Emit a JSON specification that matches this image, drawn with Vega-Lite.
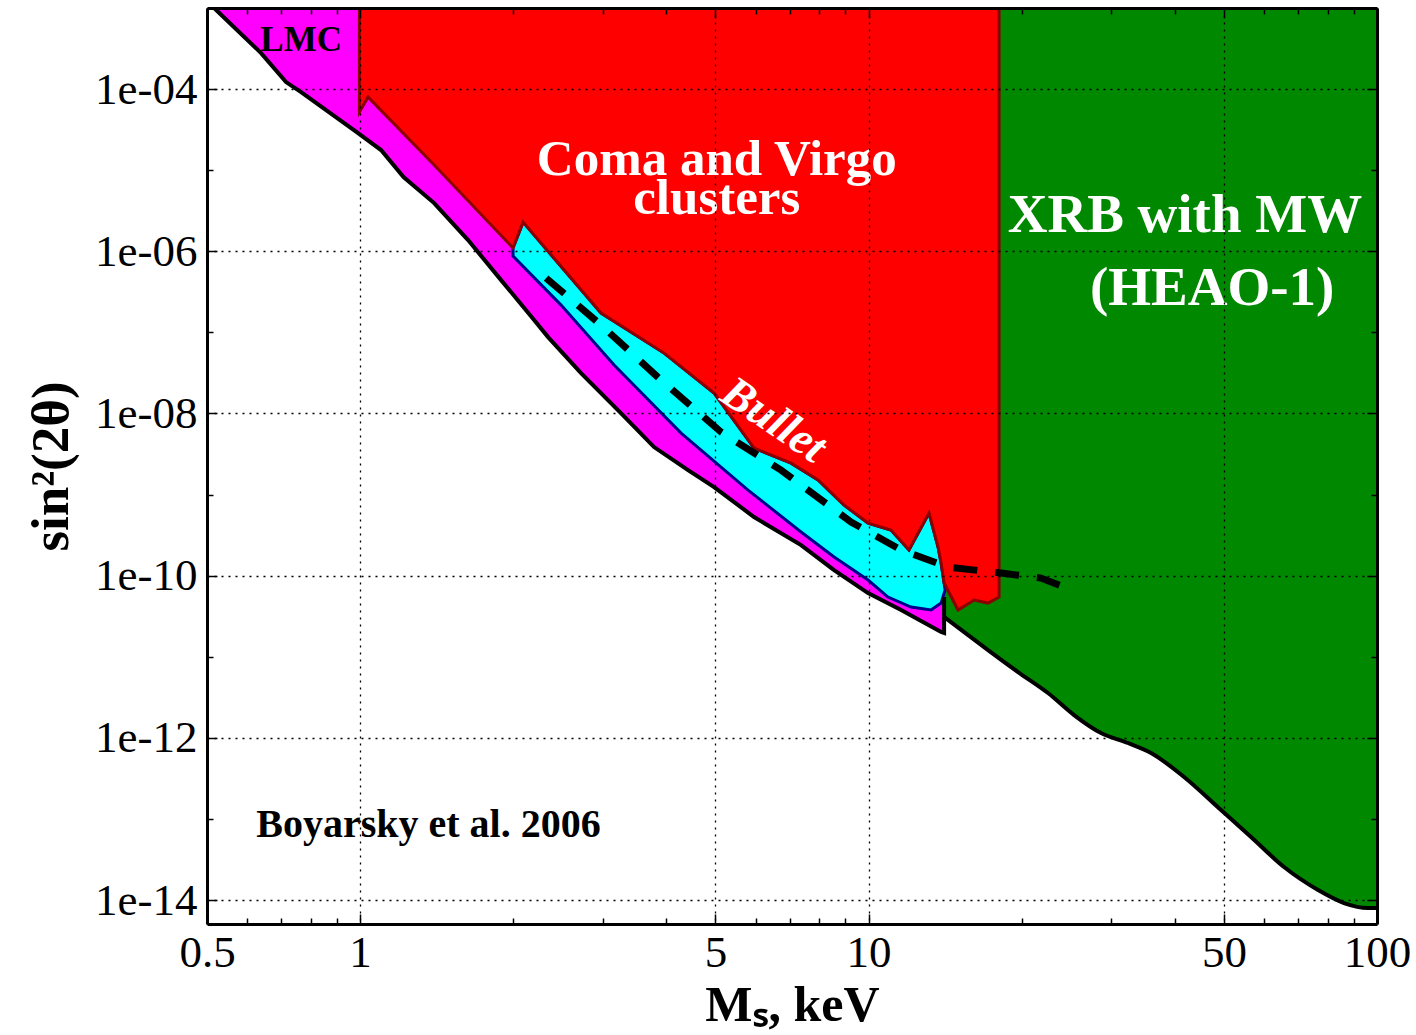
{
  "$schema": "https://vega.github.io/schema/vega-lite/v6.json",
  "width": 1170,
  "height": 916,
  "autosize": "none",
  "padding": {"left": 207, "top": 8, "right": 39, "bottom": 111},
  "background": "white",
  "config": {"view": {"stroke": null}},
  "datasets": {
    "green": [
      {"i": 0, "M": 14.08, "s": 3.09e-11},
      {"i": 1, "M": 15.70, "s": 1.852e-11},
      {"i": 2, "M": 17.18, "s": 1.209e-11},
      {"i": 3, "M": 19.68, "s": 6.48e-12},
      {"i": 4, "M": 22.54, "s": 3.57e-12},
      {"i": 5, "M": 25.36, "s": 1.91e-12},
      {"i": 6, "M": 28.66, "s": 1.146e-12},
      {"i": 7, "M": 32.38, "s": 8.63e-13},
      {"i": 8, "M": 35.94, "s": 6.50e-13},
      {"i": 9, "M": 41.74, "s": 3.29e-13},
      {"i": 10, "M": 49.34, "s": 1.287e-13},
      {"i": 11, "M": 56.53, "s": 5.98e-14},
      {"i": 12, "M": 65.64, "s": 2.55e-14},
      {"i": 13, "M": 76.56, "s": 1.328e-14},
      {"i": 14, "M": 86.11, "s": 9.18e-15},
      {"i": 15, "M": 96.0, "s": 7.97e-15},
      {"i": 16, "M": 100, "s": 7.97e-15},
      {"i": 17, "M": 100, "s": 1e-3},
      {"i": 18, "M": 14.08, "s": 1e-3}
    ],
    "magenta": [
      {"i": 0, "M": 0.5163, "s": 1e-3},
      {"i": 1, "M": 0.6388, "s": 2.78e-4},
      {"i": 2, "M": 0.7151, "s": 1.22e-4},
      {"i": 3, "M": 0.7656, "s": 9.18e-5},
      {"i": 4, "M": 0.991, "s": 2.87e-5},
      {"i": 5, "M": 1.0997, "s": 1.77e-5},
      {"i": 6, "M": 1.2175, "s": 8.22e-6},
      {"i": 7, "M": 1.3984, "s": 3.93e-6},
      {"i": 8, "M": 1.631, "s": 1.374e-6},
      {"i": 9, "M": 1.894, "s": 4.41e-7},
      {"i": 10, "M": 2.199, "s": 1.418e-7},
      {"i": 11, "M": 2.343, "s": 8.75e-8},
      {"i": 12, "M": 2.720, "s": 3.15e-8},
      {"i": 13, "M": 3.262, "s": 1e-8},
      {"i": 14, "M": 3.786, "s": 3.85e-9},
      {"i": 15, "M": 4.416, "s": 2.00e-9},
      {"i": 16, "M": 4.969, "s": 1.238e-9},
      {"i": 17, "M": 5.954, "s": 5.28e-10},
      {"i": 18, "M": 7.367, "s": 2.38e-10},
      {"i": 19, "M": 8.555, "s": 1.172e-10},
      {"i": 20, "M": 9.977, "s": 6.10e-11},
      {"i": 21, "M": 11.59, "s": 3.77e-11},
      {"i": 22, "M": 13.89, "s": 2.02e-11},
      {"i": 23, "M": 14.08, "s": 1.96e-11},
      {"i": 24, "M": 14.08, "s": 5.45e-11},
      {"i": 25, "M": 4.685, "s": 1e-3}
    ],
    "cyan": [
      {"i": 0, "M": 1.999, "s": 1.095e-6},
      {"i": 1, "M": 2.092, "s": 2.29e-6},
      {"i": 2, "M": 2.978, "s": 1.73e-7},
      {"i": 3, "M": 3.962, "s": 5.55e-8},
      {"i": 4, "M": 4.969, "s": 1.784e-8},
      {"i": 5, "M": 5.954, "s": 3.74e-9},
      {"i": 6, "M": 7.041, "s": 2.44e-9},
      {"i": 7, "M": 7.955, "s": 1.51e-9},
      {"i": 8, "M": 8.951, "s": 7.42e-10},
      {"i": 9, "M": 9.977, "s": 4.45e-10},
      {"i": 10, "M": 11.07, "s": 3.65e-10},
      {"i": 11, "M": 12.01, "s": 2.07e-10},
      {"i": 12, "M": 13.15, "s": 5.91e-10},
      {"i": 13, "M": 13.70, "s": 2.25e-10},
      {"i": 14, "M": 13.89, "s": 1.43e-10},
      {"i": 15, "M": 14.08, "s": 8.10e-11},
      {"i": 16, "M": 14.14, "s": 6.64e-11},
      {"i": 17, "M": 13.89, "s": 4.59e-11},
      {"i": 18, "M": 13.27, "s": 3.77e-11},
      {"i": 19, "M": 12.12, "s": 4.10e-11},
      {"i": 20, "M": 10.92, "s": 5.45e-11},
      {"i": 21, "M": 9.977, "s": 8.83e-11},
      {"i": 22, "M": 8.555, "s": 1.696e-10},
      {"i": 23, "M": 7.367, "s": 3.45e-10},
      {"i": 24, "M": 5.794, "s": 1.136e-9},
      {"i": 25, "M": 4.279, "s": 5.73e-9},
      {"i": 26, "M": 3.159, "s": 3.95e-8},
      {"i": 27, "M": 2.485, "s": 2.17e-7},
      {"i": 28, "M": 1.999, "s": 8.73e-7}
    ],
    "red": [
      {"i": 0, "M": 0.997, "s": 1e-3},
      {"i": 1, "M": 18.06, "s": 1e-3},
      {"i": 2, "M": 18.06, "s": 5.45e-11},
      {"i": 3, "M": 17.18, "s": 4.59e-11},
      {"i": 4, "M": 16.13, "s": 5.00e-11},
      {"i": 5, "M": 15.00, "s": 3.77e-11},
      {"i": 6, "M": 14.08, "s": 8.10e-11},
      {"i": 7, "M": 13.89, "s": 1.43e-10},
      {"i": 8, "M": 13.70, "s": 2.25e-10},
      {"i": 9, "M": 13.15, "s": 5.91e-10},
      {"i": 10, "M": 12.01, "s": 2.07e-10},
      {"i": 11, "M": 11.07, "s": 3.65e-10},
      {"i": 12, "M": 9.977, "s": 4.45e-10},
      {"i": 13, "M": 8.951, "s": 7.42e-10},
      {"i": 14, "M": 7.955, "s": 1.51e-9},
      {"i": 15, "M": 7.041, "s": 2.44e-9},
      {"i": 16, "M": 5.954, "s": 3.74e-9},
      {"i": 17, "M": 4.969, "s": 1.784e-8},
      {"i": 18, "M": 3.962, "s": 5.55e-8},
      {"i": 19, "M": 2.978, "s": 1.73e-7},
      {"i": 20, "M": 2.092, "s": 2.29e-6},
      {"i": 21, "M": 1.999, "s": 1.095e-6},
      {"i": 22, "M": 1.3984, "s": 1.156e-5},
      {"i": 23, "M": 1.0369, "s": 7.97e-5},
      {"i": 24, "M": 0.997, "s": 5.21e-5}
    ],
    "bullet": [
      {"i": 0, "M": 2.322, "s": 4.67e-7},
      {"i": 1, "M": 2.978, "s": 1.23e-7},
      {"i": 2, "M": 3.908, "s": 2.58e-8},
      {"i": 3, "M": 5.128, "s": 5.90e-9},
      {"i": 4, "M": 6.729, "s": 2.00e-9},
      {"i": 5, "M": 9.239, "s": 4.58e-10},
      {"i": 6, "M": 11.59, "s": 2.07e-10},
      {"i": 7, "M": 14.33, "s": 1.276e-10},
      {"i": 8, "M": 18.22, "s": 1.077e-10},
      {"i": 9, "M": 21.84, "s": 9.34e-11},
      {"i": 10, "M": 24.24, "s": 7.23e-11}
    ]
  },
  "layer": [
    {
      "data": {"name": "green"},
      "mark": {"type": "line", "interpolate": "linear-closed", "fill": "#008800", "stroke": "#008800", "strokeWidth": 1, "clip": true},
      "encoding": {
        "x": {"field": "M", "type": "quantitative", "scale": {"type": "log", "domain": [0.5, 100], "nice": false},
          "axis": {"orient": "bottom", "values": [0.5, 1, 5, 10, 50, 100], "ticks": false, "labelExpr": "format(datum.value, '~g')",
            "labelFont": "Liberation Serif", "labelFontSize": 45, "labelColor": "black", "labelPadding": 6, "labelFlush": false, "labelOverlap": false,
            "grid": true, "gridColor": "black", "gridDash": [2, 5], "gridWidth": 1.3, "gridOpacity": 1,
            "domain": true, "domainColor": "black", "domainWidth": 3,
            "title": "Mₛ, keV", "titleFont": "Liberation Serif", "titleFontSize": 50, "titleFontWeight": "bold", "titleColor": "black", "titlePadding": 5, "zindex": 1}},
        "y": {"field": "s", "type": "quantitative", "scale": {"type": "log", "domain": [5.06e-15, 1e-3], "nice": false},
          "axis": {"orient": "left", "values": [1e-14, 1e-12, 1e-10, 1e-8, 1e-6, 1e-4], "ticks": false,
            "labelExpr": "'1e-' + (round(-log(datum.value)/LN10) < 10 ? '0' : '') + round(-log(datum.value)/LN10)",
            "labelFont": "Liberation Serif", "labelFontSize": 45, "labelColor": "black", "labelPadding": 10, "labelFlush": false, "labelOverlap": false,
            "grid": true, "gridColor": "black", "gridDash": [2, 5], "gridWidth": 1.3, "gridOpacity": 1,
            "domain": true, "domainColor": "black", "domainWidth": 3,
            "title": "sin²(2θ)", "titleFont": "Liberation Serif", "titleFontSize": 53, "titleFontWeight": "bold", "titleColor": "black", "titlePadding": 16, "zindex": 1}},
        "order": {"field": "i", "type": "quantitative"}
      }
    },
    {
      "data": {"name": "magenta"},
      "mark": {"type": "line", "interpolate": "linear-closed", "fill": "#ff00ff", "stroke": "#ff00ff", "strokeWidth": 1, "clip": true},
      "encoding": {
        "x": {"field": "M", "type": "quantitative", "scale": {"type": "log", "domain": [0.5, 100], "nice": false},
          "axis": {"orient": "bottom", "values": [0.5, 0.6, 0.7, 0.8, 0.9, 1, 2, 3, 4, 5, 6, 7, 8, 9, 10, 20, 30, 40, 50, 60, 70, 80, 90, 100],
            "labels": false, "grid": false, "domain": false, "title": null, "tickColor": "black", "tickWidth": 1.5,
            "tickSize": {"condition": {"test": "datum.value == 0.5 || datum.value == 1 || datum.value == 5 || datum.value == 10 || datum.value == 50 || datum.value == 100", "value": -10}, "value": -6}, "zindex": 1}},
        "y": {"field": "s", "type": "quantitative", "scale": {"type": "log", "domain": [5.06e-15, 1e-3], "nice": false},
          "axis": {"orient": "left", "values": [1e-14, 1e-13, 1e-12, 1e-11, 1e-10, 1e-9, 1e-8, 1e-7, 1e-6, 1e-5, 1e-4, 1e-3],
            "labels": false, "grid": false, "domain": false, "title": null, "tickColor": "black", "tickWidth": 1.5,
            "tickSize": {"condition": {"test": "round(-log(datum.value)/LN10) % 2 == 0", "value": -10}, "value": -6}, "zindex": 1}},
        "order": {"field": "i", "type": "quantitative"}
      }
    },
    {
      "data": {"name": "cyan"},
      "mark": {"type": "line", "interpolate": "linear-closed", "fill": "#00ffff", "stroke": "#00008b", "strokeWidth": 3, "clip": true},
      "encoding": {
        "x": {"field": "M", "type": "quantitative", "scale": {"type": "log", "domain": [0.5, 100], "nice": false},
          "axis": {"orient": "top", "values": [0.5, 0.6, 0.7, 0.8, 0.9, 1, 2, 3, 4, 5, 6, 7, 8, 9, 10, 20, 30, 40, 50, 60, 70, 80, 90, 100],
            "labels": false, "grid": false, "domain": true, "domainColor": "black", "domainWidth": 3, "title": null, "tickColor": "black", "tickWidth": 1.5,
            "tickSize": {"condition": {"test": "datum.value == 0.5 || datum.value == 1 || datum.value == 5 || datum.value == 10 || datum.value == 50 || datum.value == 100", "value": -10}, "value": -6}, "zindex": 1}},
        "y": {"field": "s", "type": "quantitative", "scale": {"type": "log", "domain": [5.06e-15, 1e-3], "nice": false},
          "axis": {"orient": "right", "values": [1e-14, 1e-13, 1e-12, 1e-11, 1e-10, 1e-9, 1e-8, 1e-7, 1e-6, 1e-5, 1e-4, 1e-3],
            "labels": false, "grid": false, "domain": true, "domainColor": "black", "domainWidth": 3, "title": null, "tickColor": "black", "tickWidth": 1.5,
            "tickSize": {"condition": {"test": "round(-log(datum.value)/LN10) % 2 == 0", "value": -10}, "value": -6}, "zindex": 1}},
        "order": {"field": "i", "type": "quantitative"}
      }
    },
    {
      "data": {"name": "red"},
      "mark": {"type": "line", "interpolate": "linear-closed", "fill": "#ff0000", "stroke": "#8b0000", "strokeWidth": 3, "clip": true},
      "encoding": {
        "x": {"field": "M", "type": "quantitative", "scale": {"type": "log", "domain": [0.5, 100], "nice": false}, "axis": null},
        "y": {"field": "s", "type": "quantitative", "scale": {"type": "log", "domain": [5.06e-15, 1e-3], "nice": false}, "axis": null},
        "order": {"field": "i", "type": "quantitative"}
      }
    },
    {
      "data": {"name": "magenta"},
      "transform": [{"filter": "datum.i <= 24"}],
      "mark": {"type": "line", "color": "black", "strokeWidth": 4, "clip": true},
      "encoding": {
        "x": {"field": "M", "type": "quantitative", "scale": {"type": "log", "domain": [0.5, 100], "nice": false}, "axis": null},
        "y": {"field": "s", "type": "quantitative", "scale": {"type": "log", "domain": [5.06e-15, 1e-3], "nice": false}, "axis": null},
        "order": {"field": "i", "type": "quantitative"}
      }
    },
    {
      "data": {"name": "green"},
      "transform": [{"filter": "datum.i <= 16"}],
      "mark": {"type": "line", "color": "black", "strokeWidth": 4, "interpolate": "monotone", "clip": true},
      "encoding": {
        "x": {"field": "M", "type": "quantitative", "scale": {"type": "log", "domain": [0.5, 100], "nice": false}, "axis": null},
        "y": {"field": "s", "type": "quantitative", "scale": {"type": "log", "domain": [5.06e-15, 1e-3], "nice": false}, "axis": null},
        "order": {"field": "i", "type": "quantitative"}
      }
    },
    {
      "data": {"name": "bullet"},
      "mark": {"type": "line", "color": "black", "strokeWidth": 7, "strokeDash": [24, 18], "clip": true},
      "encoding": {
        "x": {"field": "M", "type": "quantitative", "scale": {"type": "log", "domain": [0.5, 100], "nice": false}, "axis": null},
        "y": {"field": "s", "type": "quantitative", "scale": {"type": "log", "domain": [5.06e-15, 1e-3], "nice": false}, "axis": null},
        "order": {"field": "i", "type": "quantitative"}
      }
    },
    {
      "data": {"values": [
        {"M": 5.03, "s": 8.7e-6, "t": "Coma and Virgo"},
        {"M": 5.03, "s": 2.9e-6, "t": "clusters"}
      ]},
      "mark": {"type": "text", "font": "Liberation Serif", "fontWeight": "bold", "fontSize": 51, "color": "white", "align": "center", "baseline": "alphabetic"},
      "encoding": {
        "x": {"field": "M", "type": "quantitative", "scale": {"type": "log", "domain": [0.5, 100], "nice": false}, "axis": null},
        "y": {"field": "s", "type": "quantitative", "scale": {"type": "log", "domain": [5.06e-15, 1e-3], "nice": false}, "axis": null},
        "text": {"field": "t"}
      }
    },
    {
      "data": {"values": [
        {"M": 41.9, "s": 1.726e-6, "t": "XRB with MW"},
        {"M": 47.4, "s": 2.17e-7, "t": "(HEAO-1)"}
      ]},
      "mark": {"type": "text", "font": "Liberation Serif", "fontWeight": "bold", "fontSize": 55, "color": "white", "align": "center", "baseline": "alphabetic"},
      "encoding": {
        "x": {"field": "M", "type": "quantitative", "scale": {"type": "log", "domain": [0.5, 100], "nice": false}, "axis": null},
        "y": {"field": "s", "type": "quantitative", "scale": {"type": "log", "domain": [5.06e-15, 1e-3], "nice": false}, "axis": null},
        "text": {"field": "t"}
      }
    },
    {
      "data": {"values": [{"M": 0.766, "s": 4.0e-4, "t": "LMC"}]},
      "mark": {"type": "text", "font": "Liberation Serif", "fontWeight": "bold", "fontSize": 35, "color": "black", "align": "center", "baseline": "middle"},
      "encoding": {
        "x": {"field": "M", "type": "quantitative", "scale": {"type": "log", "domain": [0.5, 100], "nice": false}, "axis": null},
        "y": {"field": "s", "type": "quantitative", "scale": {"type": "log", "domain": [5.06e-15, 1e-3], "nice": false}, "axis": null},
        "text": {"field": "t"}
      }
    },
    {
      "data": {"values": [{"M": 0.625, "s": 8.4e-14, "t": "Boyarsky et al. 2006"}]},
      "mark": {"type": "text", "font": "Liberation Serif", "fontWeight": "bold", "fontSize": 40, "color": "black", "align": "left", "baseline": "middle"},
      "encoding": {
        "x": {"field": "M", "type": "quantitative", "scale": {"type": "log", "domain": [0.5, 100], "nice": false}, "axis": null},
        "y": {"field": "s", "type": "quantitative", "scale": {"type": "log", "domain": [5.06e-15, 1e-3], "nice": false}, "axis": null},
        "text": {"field": "t"}
      }
    },
    {
      "data": {"values": [{"M": 6.51, "s": 8.3e-9, "t": "Bullet"}]},
      "mark": {"type": "text", "font": "Liberation Serif", "fontWeight": "bold", "fontStyle": "italic", "fontSize": 46, "color": "white", "align": "center", "baseline": "middle", "angle": 34},
      "encoding": {
        "x": {"field": "M", "type": "quantitative", "scale": {"type": "log", "domain": [0.5, 100], "nice": false}, "axis": null},
        "y": {"field": "s", "type": "quantitative", "scale": {"type": "log", "domain": [5.06e-15, 1e-3], "nice": false}, "axis": null},
        "text": {"field": "t"}
      }
    }
  ],
  "resolve": {"axis": {"x": "independent", "y": "independent"}}
}
